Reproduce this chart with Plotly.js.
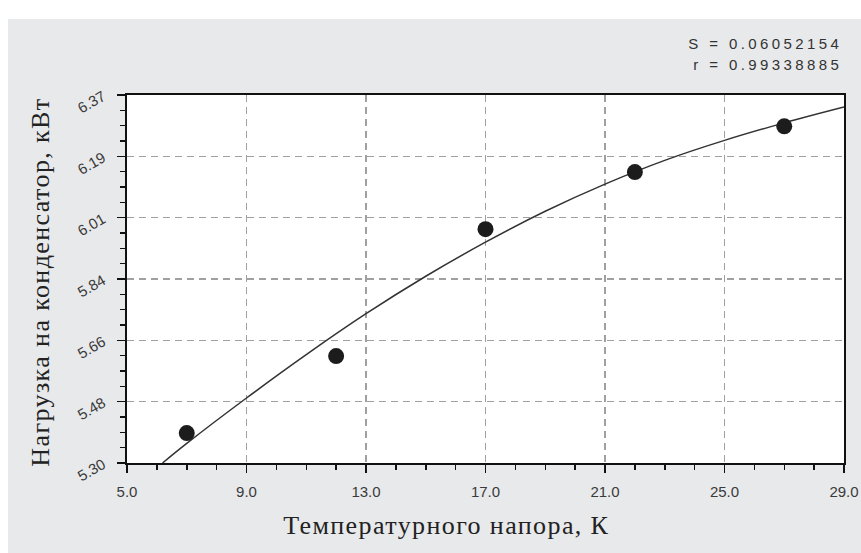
<!DOCTYPE html>
<html>
<head>
<meta charset="utf-8">
<script src="https://cdn.plot.ly/plotly-3.0.1.min.js"></script>
<style>
  html, body { margin: 0; padding: 0; background: #ffffff; }
  #chart { position: absolute; left: 8px; top: 19px; width: 853px; height: 534px; }
  g.annotation[data-index="0"] text, g.annotation[data-index="1"] text { letter-spacing: 1.4px; }
  g.annotation[data-index="2"] text, g.annotation[data-index="3"] text { letter-spacing: 3.4px; }
</style>
</head>
<body>
<div id="chart"></div>
<script>
// Measured points
const pointX = [7, 12, 17, 22, 27];
const pointY = [5.387, 5.611, 5.980, 6.146, 6.279];

// Fitted curve
const curveX = [6.19, 7, 9, 11, 13, 15, 17, 19, 21, 23, 25, 27, 29];
const curveY = [5.30, 5.357, 5.489, 5.615, 5.734, 5.843, 5.942, 6.032, 6.111, 6.180, 6.238, 6.289, 6.335];

// Axis tick labels
const xTickVals = [5, 9, 13, 17, 21, 25, 29];
const xTickText = ["5.0", "9.0", "13.0", "17.0", "21.0", "25.0", "29.0"];
const yTickVals = [5.30, 5.478333, 5.656667, 5.835, 6.013333, 6.191667, 6.37];
const yTickText = ["5.30", "5.48", "5.66", "5.84", "6.01", "6.19", "6.37"];

const xTitle = "Температурного напора, К";
const yTitle = "Нагрузка на конденсатор, кВт";
const statS = "S = 0.06052154";
const statR = "r = 0.99338885";

const tickFont = { family: "Liberation Sans, Arial, sans-serif", size: 15, color: "#3a3a3a" };
const titleFont = { family: "Liberation Serif, Times New Roman, serif", size: 26, color: "#222" };
const statFont = { family: "Liberation Sans, Arial, sans-serif", size: 15, color: "#333" };

const traces = [
  {
    x: curveX, y: curveY, type: "scatter", mode: "lines",
    line: { color: "#333333", width: 1.5, shape: "spline" },
    hoverinfo: "skip", showlegend: false
  },
  {
    x: pointX, y: pointY, type: "scatter", mode: "markers",
    marker: { color: "#1c1c1c", size: 16, symbol: "circle" },
    showlegend: false
  }
];

const layout = {
  width: 853, height: 534,
  paper_bgcolor: "#e8e9eb",
  plot_bgcolor: "#ffffff",
  margin: { l: 119, r: 17, t: 76, b: 90 },
  showlegend: false,
  xaxis: {
    range: [5, 29], tickvals: xTickVals, ticktext: xTickText,
    ticks: "outside", ticklen: 8, tickwidth: 1.5, tickcolor: "#111",
    showline: true, linecolor: "#111", linewidth: 2, mirror: true,
    showgrid: true, gridcolor: "#a0a0a0", gridwidth: 1.5, griddash: "7px,5px",
    zeroline: false, tickfont: tickFont, ticklabelstandoff: 6,
    minor: { dtick: 1, tick0: 5, ticks: "outside", ticklen: 5, tickwidth: 1.5, tickcolor: "#111", showgrid: false }
  },
  yaxis: {
    range: [5.30, 6.37], tickvals: yTickVals, ticktext: yTickText,
    ticks: "outside", ticklen: 8, tickwidth: 1.5, tickcolor: "#111",
    showline: true, linecolor: "#111", linewidth: 2, mirror: true,
    showgrid: true, gridcolor: "#a0a0a0", gridwidth: 1.5, griddash: "7px,5px",
    zeroline: false, tickfont: tickFont, tickangle: -30, ticklabelstandoff: 11,
    minor: { dtick: 0.04458333, tick0: 5.30, ticks: "outside", ticklen: 5, tickwidth: 1.5, tickcolor: "#111", showgrid: false }
  },
  annotations: [
    { xref: "paper", yref: "paper", x: 0.445, y: -0.170, xanchor: "center", yanchor: "middle",
      text: xTitle, showarrow: false, font: titleFont },
    { xref: "paper", yref: "paper", x: -0.1213, y: 0.4916, xanchor: "center", yanchor: "middle",
      textangle: -90, text: yTitle, showarrow: false, font: titleFont },
    { xref: "paper", yref: "paper", x: 0.9944, y: 1.1405, xanchor: "right", yanchor: "middle", xshift: -20,
      text: statS, showarrow: false, font: statFont },
    { xref: "paper", yref: "paper", x: 0.9944, y: 1.0819, xanchor: "right", yanchor: "middle", xshift: -20,
      text: statR, showarrow: false, font: statFont }
  ]
};

Plotly.newPlot("chart", traces, layout, { displayModeBar: false, staticPlot: true });
</script>
</body>
</html>
